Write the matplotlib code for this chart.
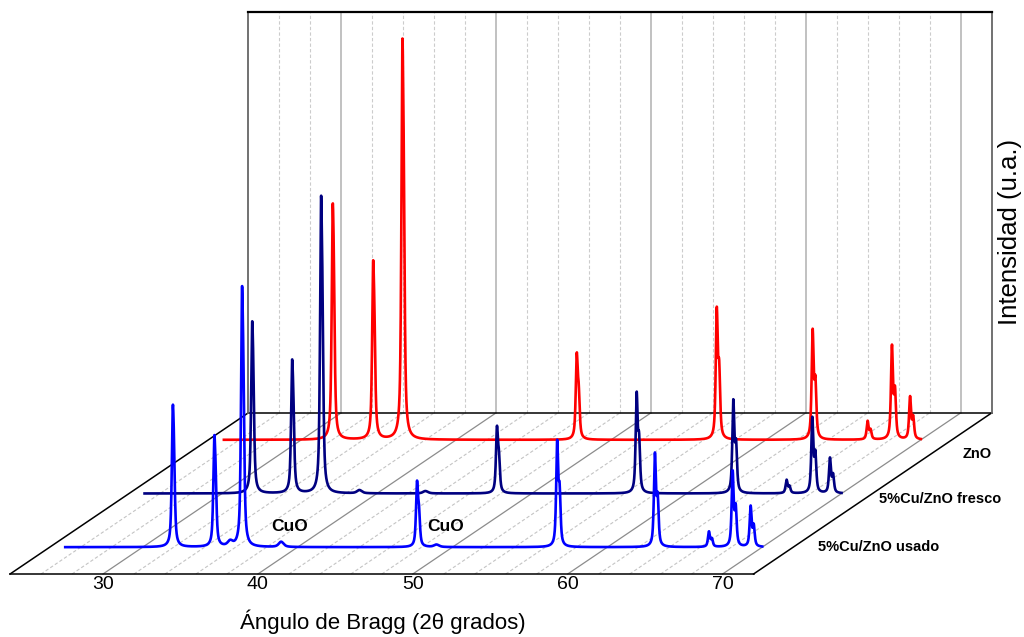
import numpy as np
import matplotlib.pyplot as plt

plt.rcParams['font.family'] = ['Liberation Sans', 'DejaVu Sans']

# measured 2-theta range and box of the 3D frame
tt_start, tt_end = 25.0, 70.0
box_x = (24, 72)
box_depth = 3.0
box_z = 100.0
tick_values = [30, 40, 50, 60, 70]

series_names = ['5%Cu/ZnO usado', '5%Cu/ZnO fresco', 'ZnO']
series_colors = ['#0000ff', '#000080', '#ff0000']
series_depth = [0.5, 1.5, 2.5]

# peak positions (2theta) and heights (u.a.)
usado_pos = [31.94, 34.62, 35.62, 36.41, 38.91, 47.71, 48.93, 56.76, 63.07, 66.56, 68.09, 69.25]
usado_int = [35.5, 27.8, 1.2, 65.0, 1.3, 16.6, 0.6, 26.8, 23.6, 3.9, 19.1, 10.3]
fresco_pos = [31.94, 34.52, 36.39, 38.84, 43.10, 47.75, 56.77, 63.01, 66.45, 68.11, 69.25]
fresco_int = [42.9, 33.3, 74.2, 0.8, 0.6, 16.9, 25.4, 23.5, 3.4, 19.1, 8.9]
zno_pos = [32.02, 34.63, 36.52, 47.78, 56.82, 63.01, 66.56, 68.13, 69.30]
zno_int = [58.9, 44.6, 100.0, 21.8, 33.2, 27.7, 4.7, 23.7, 10.8]

cuo_pos = [38.91, 48.93]

# oblique projection: how far one depth unit moves a point on screen
DX = 15.365 / box_depth
DZ = 40.15 / box_depth


def proj(x, d, z):
    return np.asarray(x) + d * DX, np.asarray(z) + d * DZ


def pv(u, fwhm, eta=0.7):
    g = np.exp(-4 * np.log(2) * (u / fwhm) ** 2)
    l = 1 / (1 + 4 * (u / fwhm) ** 2)
    return eta * l + (1 - eta) * g


def pattern(pos, amp):
    tt = np.linspace(tt_start, tt_end, 6000)
    y = np.zeros_like(tt)
    for c, a in zip(pos, amp):
        w = 0.15 if a > 2 else 0.35
        # Cu K-alpha2 shoulder
        c2 = 2 * np.degrees(np.arcsin(1.54443 / 1.54056 * np.sin(np.radians(c / 2))))
        shape = pv(tt - c, w) + 0.5 * pv(tt - c2, w)
        y += a * shape / shape.max()
    return tt, y


fig = plt.figure(figsize=(10.24, 6.37), dpi=100)
ax = fig.add_axes([0, 0, 1, 1])
ax.set_xlim(23.35, 89.46)
ax.set_ylim(-15.71, 143.14)
ax.axis('off')

# floor and back wall grid
for v in range(box_x[0] + 2, box_x[1], 2):
    major = v % 10 == 0
    fx, fy = proj([v, v], np.array([0, box_depth]), [0, 0])
    wx, wy = proj([v, v], box_depth, [0, box_z])
    if major:
        ax.plot(fx, fy, color='#8c8c8c', lw=0.9, zorder=1)
        ax.plot(wx, wy, color='#b0b0b0', lw=1.1, zorder=1)
    else:
        ax.plot(fx, fy, color='#c4c4c4', lw=0.8, ls=(0, (3, 2)), zorder=1)
        ax.plot(wx, wy, color='#cccccc', lw=0.8, ls=(0, (3, 2)), zorder=1)

# frame
x0, x1 = box_x
for xs, ds in [([x0, x1], [0, 0]), ([x0, x1], [box_depth, box_depth]),
               ([x0, x0], [0, box_depth]), ([x1, x1], [0, box_depth])]:
    px, py = proj(xs, np.array(ds), [0, 0])
    ax.plot(px, py, color='black', lw=1.1, zorder=2)
for xe in box_x:
    px, py = proj([xe, xe], box_depth, [0, box_z])
    ax.plot(px, py, color='#666666', lw=1.3, zorder=2)
px, py = proj([x0, x1], box_depth, [box_z, box_z])
ax.plot(px, py, color='black', lw=1.6, zorder=2)

# patterns, back to front
peaks = [(usado_pos, usado_int), (fresco_pos, fresco_int), (zno_pos, zno_int)]
for i in [2, 1, 0]:
    tt, y = pattern(*peaks[i])
    px, py = proj(tt, series_depth[i], y)
    ax.plot(px, py, color=series_colors[i], lw=1.9, zorder=3 + (2 - i))

# tick labels on the front edge
for t in tick_values:
    ax.text(*proj(t, 0, -2.7), str(t), ha='center', va='center', fontsize=14)

# series labels on the right side
label_x = [73.6, 72.4, 72.7]
label_z = [0.0, -1.3, -3.5]
for i, name in enumerate(series_names):
    ax.text(*proj(label_x[i], series_depth[i], label_z[i]), name,
            ha='left', va='center', fontsize=10.5, fontweight='bold')

for c in cuo_pos:
    ax.text(*proj(c + 0.6, series_depth[0], 5.2), 'CuO',
            ha='center', va='center', fontsize=12.5, fontweight='bold')

fig.text(383 / 1024, 1 - 622 / 637, 'Ángulo de Bragg (2θ grados)',
         ha='center', va='center', fontsize=16)
fig.text(1010 / 1024, 1 - 232 / 637, 'Intensidad (u.a.)', rotation=90,
         ha='center', va='center', fontsize=18.5)

fig.savefig('out.png', dpi=100)
